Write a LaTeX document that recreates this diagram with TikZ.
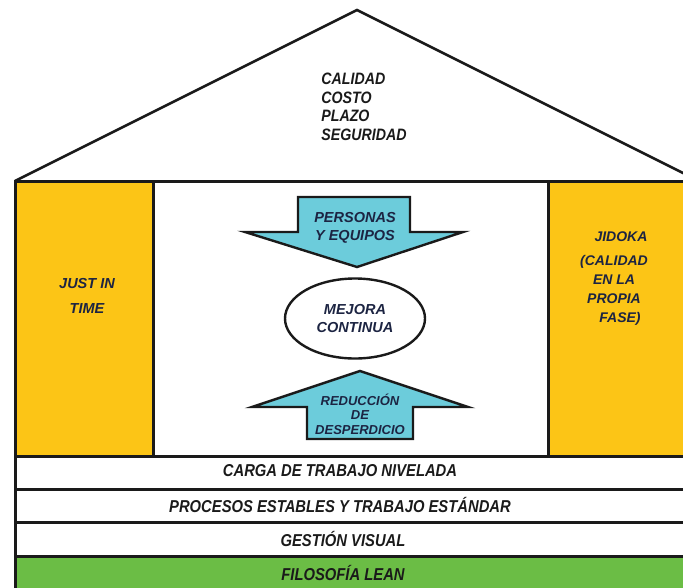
\documentclass[tikz,border=0pt]{standalone}
\usepackage{fontspec}
\setmainfont{Liberation Sans}
\newfontfamily\narrowsf{Liberation Sans}[FakeStretch=0.86]
\usepackage{xcolor}
\definecolor{cYellow}{HTML}{FCC516}
\definecolor{cGreen}{HTML}{6BBD45}
\definecolor{cBlue}{HTML}{6CCCDB}
\definecolor{cText}{HTML}{1C2442}
\definecolor{cInk}{HTML}{1A1A1A}
\usepackage{tikz}
\usetikzlibrary{positioning,shapes.geometric}
\tikzset{
  house-line/.style={draw=cInk,line width=3pt},
  roof-line/.style={draw=cInk,line width=2.6pt,line join=miter},
  arrow-shape/.style={draw=cInk,line width=2.4pt,fill=cBlue,line join=miter},
  node-goal/.style={inner sep=0pt,align=left,text=cInk,
    font=\narrowsf\bfseries\itshape\fontsize{16.5}{18.5}\selectfont},
  node-pillar/.style={inner sep=0pt,align=center,text=cText,
    font=\bfseries\itshape\fontsize{14.5}{25}\selectfont},
  node-center/.style={inner sep=0pt,align=center,text=cText,
    font=\bfseries\itshape\fontsize{14.5}{18.5}\selectfont},
  node-band/.style={inner sep=0pt,text=cInk,
    font=\narrowsf\bfseries\itshape\fontsize{17.2}{18}\selectfont},
  node-cycle/.style={draw=cInk,line width=2.4pt,ellipse,fill=white,
    minimum width=140pt,minimum height=80pt,inner sep=0pt},
}

\begin{document}
\begin{tikzpicture}[x=1pt,y=-1pt]
  \useasboundingbox (0,0) rectangle (683,587);
  \clip (0,0) rectangle (683,587);
  % fills
  \fill[cYellow] (15,181) rectangle (153,456);
  \fill[cYellow] (548,181) rectangle (700,456);
  \fill[cGreen] (15,556) rectangle (700,595);
  % roof and frame
  \draw[roof-line] (15,181) -- (357,10) -- (699,181);
  \draw[house-line] (15,181) -- (700,181);
  \draw[house-line] (15,179.5) -- (15,595);
  \draw[house-line] (153,181) -- (153,456);
  \draw[house-line] (548,181) -- (548,456);
  \foreach \y in {456,489,522,556}
    \draw[house-line] (15,\y) -- (700,\y);
  % arrows
  \draw[arrow-shape] (298,197) -- (410,197) -- (410,232) -- (463,232)
    -- (357,267) -- (245,232) -- (298,232) -- cycle;
  \draw[arrow-shape] (307,439) -- (413,439) -- (413,407) -- (468,407)
    -- (360,371) -- (252,407) -- (307,407) -- cycle;
  % texts
  \node[node-goal] (goal) at (364,107) {CALIDAD\\COSTO\\PLAZO\\SEGURIDAD};
  \node[node-pillar] (jit) at (87,296) {JUST IN\\TIME};
  \node[node-pillar,font=\bfseries\itshape\fontsize{14}{19}\selectfont]
    (jidoka) at (614,279) {\hspace*{14pt}JIDOKA\\[5pt](CALIDAD\\EN LA\\PROPIA\\\hspace*{12pt}FASE)};
  \node[node-center] (people) at (355,228) {PERSONAS\\Y EQUIPOS};
  \node[node-cycle] (kaizen) at (355,318.5) {};
  \node[node-center] at (kaizen) {MEJORA\\CONTINUA};
  \node[node-center,font=\bfseries\itshape\fontsize{13}{14.5}\selectfont]
    (waste) at (360,414) {REDUCCIÓN\\DE\\DESPERDICIO};
  \node[node-band] (load) at (340,471) {CARGA DE TRABAJO NIVELADA};
  \node[node-band] (std) at (340,505) {PROCESOS ESTABLES Y TRABAJO ESTÁNDAR};
  \node[node-band] (visual) at (343,539) {GESTIÓN VISUAL};
  \node[node-band] (lean) at (343,573) {FILOSOFÍA LEAN};
\end{tikzpicture}
\end{document}
